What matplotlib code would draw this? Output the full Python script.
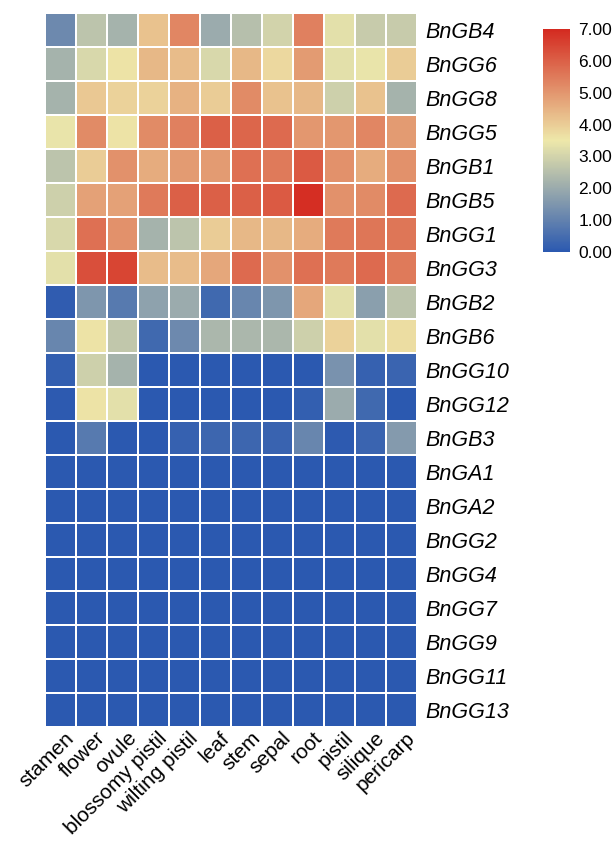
import numpy as np
import matplotlib.pyplot as plt
import matplotlib.transforms as mtransforms
from matplotlib.colors import LinearSegmentedColormap

plt.rcParams['font.family'] = ['Liberation Sans', 'DejaVu Sans']

tissues = ['stamen', 'flower', 'ovule', 'blossomy pistil', 'wilting pistil', 'leaf',
           'stem', 'sepal', 'root', 'pistil', 'silique', 'pericarp']
genes = ['BnGB4', 'BnGG6', 'BnGG8', 'BnGG5', 'BnGB1', 'BnGB5', 'BnGG1', 'BnGG3',
         'BnGB2', 'BnGB6', 'BnGG10', 'BnGG12', 'BnGB3', 'BnGA1', 'BnGA2', 'BnGG2',
         'BnGG4', 'BnGG7', 'BnGG9', 'BnGG11', 'BnGG13']

# log2 expression, one row per gene, columns follow tissues
expr = np.array([
    [1.2, 2.6, 2.2, 4.2, 5.3, 2.0, 2.5, 3.0, 5.4, 3.3, 2.8, 2.8],
    [2.2, 3.1, 3.6, 4.4, 4.3, 3.1, 4.4, 3.8, 4.9, 3.3, 3.4, 4.0],
    [2.2, 4.1, 3.9, 3.9, 4.5, 4.0, 5.2, 4.2, 4.4, 2.9, 4.2, 2.2],
    [3.4, 5.2, 3.6, 5.2, 5.4, 6.0, 5.9, 5.8, 5.0, 5.0, 5.3, 4.9],
    [2.6, 4.0, 5.1, 4.6, 4.9, 4.9, 5.7, 5.5, 6.1, 5.1, 4.6, 5.1],
    [2.9, 4.8, 4.8, 5.5, 6.0, 6.0, 6.0, 6.1, 6.9, 5.1, 5.2, 5.8],
    [3.1, 5.7, 5.1, 2.2, 2.6, 4.0, 4.4, 4.4, 4.6, 5.5, 5.6, 5.6],
    [3.3, 6.3, 6.5, 4.3, 4.3, 4.7, 5.8, 5.1, 5.7, 5.5, 5.8, 5.5],
    [0.1, 1.5, 0.8, 1.8, 2.0, 0.4, 1.1, 1.5, 4.7, 3.3, 1.7, 2.6],
    [1.1, 3.6, 2.7, 0.4, 1.2, 2.3, 2.3, 2.3, 2.9, 3.9, 3.3, 3.7],
    [0.15, 2.9, 2.2, 0, 0, 0, 0, 0, 0, 1.4, 0.2, 0.3],
    [0.05, 3.6, 3.3, 0, 0, 0, 0, 0, 0.15, 2.0, 0.4, 0],
    [0, 0.8, 0, 0, 0.2, 0.35, 0.35, 0.25, 1.1, 0.05, 0.3, 1.6],
    [0] * 12,
    [0] * 12,
    [0] * 12,
    [0] * 12,
    [0] * 12,
    [0] * 12,
    [0] * 12,
    [0] * 12,
])
cbar_ticks = [0, 1, 2, 3, 4, 5, 6, 7]

cmap = LinearSegmentedColormap.from_list('bwr_soft', ['#2B59B0', '#EEE8AA', '#D42A20'])

W, H = 615, 841
fig = plt.figure(figsize=(W / 100, H / 100), dpi=100)
ax = fig.add_axes([45 / W, 1 - 727 / H, (417 - 45) / W, (727 - 13) / H])
mesh = ax.pcolormesh(expr, cmap=cmap, vmin=0, vmax=7, edgecolors='white', linewidth=1.2)
ax.set_xlim(0, len(tissues))
ax.set_ylim(len(genes), 0)
for s in ax.spines.values():
    s.set_visible(False)

ax.yaxis.tick_right()
ax.set_yticks(np.arange(len(genes)) + 0.5)
ax.set_yticklabels(genes, fontsize=15.5, style='italic')
ax.set_xticks(np.arange(len(tissues)) + 0.5)
ax.set_xticklabels(tissues, fontsize=15, rotation=45, ha='right', va='top',
                   rotation_mode='anchor')
ax.tick_params(axis='y', length=0, pad=6)
ax.tick_params(axis='x', length=0, pad=1)

# nudge the rotated column labels a little to the right
shift = mtransforms.ScaledTranslation(4 / 100, 0, fig.dpi_scale_trans)
for lbl in ax.get_xticklabels():
    lbl.set_transform(lbl.get_transform() + shift)

cax = fig.add_axes([543 / W, 1 - 252 / H, 27 / W, (252 - 29) / H])
cb = fig.colorbar(mesh, cax=cax, ticks=cbar_ticks)
cb.outline.set_visible(False)
cb.ax.set_yticklabels([f'{t:.2f}' for t in cbar_ticks], fontsize=12.5)
cb.ax.tick_params(length=0, pad=6)

fig.savefig('out.png', dpi=100)
